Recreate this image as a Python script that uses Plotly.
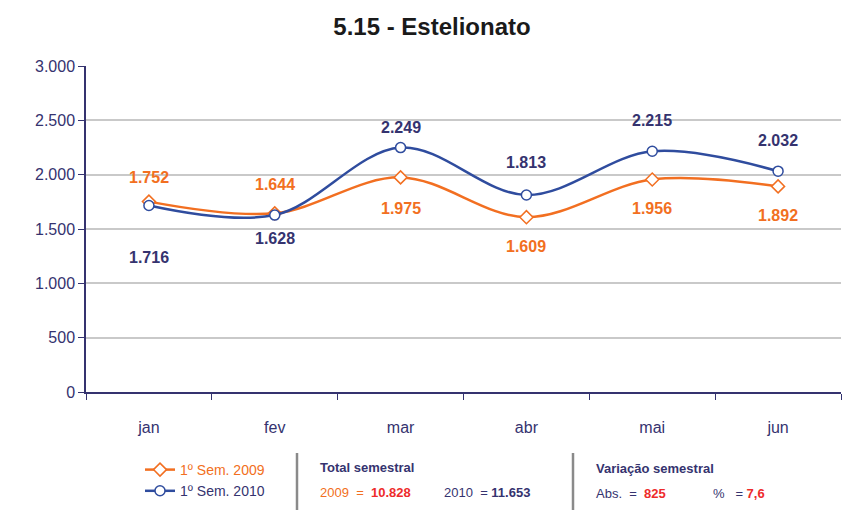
import plotly.graph_objects as go

months = ["jan", "fev", "mar", "abr", "mai", "jun"]
sem2009 = [1752, 1644, 1975, 1609, 1956, 1892]
sem2010 = [1716, 1628, 2249, 1813, 2215, 2032]
name2009 = "1º Sem. 2009"
name2010 = "1º Sem. 2010"
total2009 = "10.828"
total2010 = "11.653"
var_abs = "825"
var_pct = "7,6"

# label offsets (pixels, positive = above) for value labels
off2009 = [24, 29, -31, -29, -29, -29]
off2010 = [-52, -23, 20, 32, 31, 31]

ORANGE = "#f26f21"
BLUE = "#2f4c9e"
NAVY = "#35336f"
RED = "#ee2b2b"
FONT = "Liberation Sans, Arial, sans-serif"

# page body has an 8px margin: size the figure to fit the window
OX, OY = 8, 8
W, H = 853 - OX, 510 - OY
PL, PT, PR, PB = 86, 66, 841, 392  # plot area in window pixels

fig = go.Figure()
fig.add_trace(go.Scatter(
    x=months, y=sem2009, mode="lines+markers", line_shape="spline",
    name=f'<span style="color:{ORANGE}">{name2009}</span>',
    line=dict(color=ORANGE, width=2.5),
    marker=dict(symbol="diamond", size=10, color="white", line=dict(color=ORANGE, width=1.5)),
))
fig.add_trace(go.Scatter(
    x=months, y=sem2010, mode="lines+markers", line_shape="spline",
    name=f'<span style="color:{NAVY}">{name2010}</span>',
    line=dict(color=BLUE, width=2.5),
    marker=dict(symbol="circle", size=10, color="white", line=dict(color=BLUE, width=1.5)),
))

def fmt(v):
    return f"{v:,}".replace(",", ".")

for m, v, o in zip(months, sem2009, off2009):
    fig.add_annotation(x=m, y=v, text=f"<b>{fmt(v)}</b>", showarrow=False, yshift=o,
                       font=dict(color=ORANGE, size=16, family=FONT))
for m, v, o in zip(months, sem2010, off2010):
    fig.add_annotation(x=m, y=v, text=f"<b>{fmt(v)}</b>", showarrow=False, yshift=o,
                       font=dict(color=NAVY, size=16, family=FONT))

def px_x(px):
    return (px - PL) / (PR - PL)

def px_y(py):
    return (PB - py) / (PB - PT)

# bottom info text
fig.add_annotation(xref="paper", yref="paper", x=px_x(318), y=px_y(467),
                   xanchor="left", yanchor="middle", showarrow=False,
                   text="<b>Total semestral</b>", font=dict(color=NAVY, size=13, family=FONT))
fig.add_annotation(xref="paper", yref="paper", x=px_x(318), y=px_y(492),
                   xanchor="left", yanchor="middle", showarrow=False,
                   text=f'<span style="color:{ORANGE}">2009  =  </span><b><span style="color:{RED}">{total2009}</span></b>',
                   font=dict(color=NAVY, size=13, family=FONT))
fig.add_annotation(xref="paper", yref="paper", x=px_x(442), y=px_y(492),
                   xanchor="left", yanchor="middle", showarrow=False,
                   text=f"2010  = <b>{total2010}</b>",
                   font=dict(color=NAVY, size=13, family=FONT))
fig.add_annotation(xref="paper", yref="paper", x=px_x(594), y=px_y(468),
                   xanchor="left", yanchor="middle", showarrow=False,
                   text="<b>Variação semestral</b>", font=dict(color=NAVY, size=13, family=FONT))
fig.add_annotation(xref="paper", yref="paper", x=px_x(594), y=px_y(493),
                   xanchor="left", yanchor="middle", showarrow=False,
                   text=f'Abs.  =  <b><span style="color:{RED}">{var_abs}</span></b>',
                   font=dict(color=NAVY, size=13, family=FONT))
fig.add_annotation(xref="paper", yref="paper", x=px_x(711), y=px_y(493),
                   xanchor="left", yanchor="middle", showarrow=False,
                   text=f'%   = <b><span style="color:{RED}">{var_pct}</span></b>',
                   font=dict(color=NAVY, size=13, family=FONT))

for px in (297, 573):
    fig.add_shape(type="line", xref="paper", yref="paper",
                  x0=px_x(px), x1=px_x(px), y0=px_y(453), y1=px_y(510),
                  line=dict(color="#8a8a8a", width=2.5))

fig.update_layout(
    width=W, height=H,
    margin=dict(l=PL - OX, r=853 - PR, t=PT - OY, b=510 - PB, autoexpand=False),
    paper_bgcolor="white", plot_bgcolor="white",
    separators=",.",
    title=dict(text="<b>5.15 - Estelionato</b>", x=(432 - OX) / W, xanchor="center",
               y=1 - (27 - OY) / H, yanchor="middle",
               font=dict(size=24, color="#1a1a1a", family=FONT)),
    font=dict(family=FONT, color=NAVY),
    showlegend=True,
    legend=dict(xref="container", yref="container",
                x=(140 - OX) / W, y=1 - (454 - OY) / H, xanchor="left", yanchor="top",
                bgcolor="rgba(0,0,0,0)", font=dict(size=14, family=FONT),
                itemwidth=30, tracegroupgap=0),
)
fig.update_xaxes(
    showline=True, linecolor=NAVY, linewidth=1.5,
    ticks="outside", tickson="boundaries", ticklen=6, tickcolor=NAVY,
    tickfont=dict(size=16, color=NAVY, family=FONT), ticklabelstandoff=20,
    showgrid=False, range=[-0.5, 5.5], automargin=False,
)
fig.update_yaxes(
    range=[0, 3000], dtick=500, tickformat=",d",
    showline=True, linecolor=NAVY, linewidth=1.5,
    ticks="outside", ticklen=6, tickcolor=NAVY,
    tickfont=dict(size=16, color=NAVY, family=FONT),
    showgrid=True, gridcolor="#c9c9c9", gridwidth=1.5, zeroline=False, automargin=False,
)

fig.write_html("out.html")
